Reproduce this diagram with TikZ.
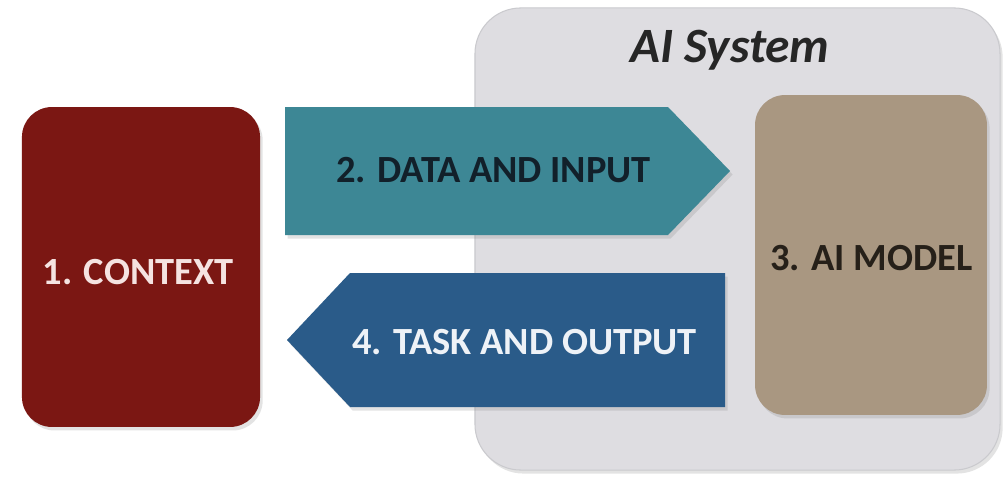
\documentclass[tikz,border=0pt]{standalone}
\usepackage{fontspec}
\setmainfont{Carlito}
\usetikzlibrary{shadows}
\definecolor{ctxred}{HTML}{7B1713}
\definecolor{datateal}{HTML}{3D8795}
\definecolor{taskblue}{HTML}{2A5B89}
\definecolor{modeltan}{HTML}{A99781}
\definecolor{sysgray}{HTML}{DEDDE1}
\definecolor{sysedge}{HTML}{CACACE}
\definecolor{darktext}{HTML}{12202A}
\definecolor{lighttext}{HTML}{EEF2F7}
\definecolor{pinktext}{HTML}{F5E3E1}
\definecolor{modeltext}{HTML}{262019}
\tikzset{
  softshadow/.style={drop shadow={opacity=0.22, shadow xshift=1.5pt, shadow yshift=-2pt}},
  boxstyle/.style={rounded corners=17pt, minimum width=#1, minimum height=181.4pt, inner sep=0pt, softshadow},
  lbl/.style={font=\fontsize{21.8}{24}\selectfont\bfseries, inner sep=0pt}
}
\begin{document}
\begin{tikzpicture}[x=0.567pt,y=-0.567pt]
\useasboundingbox[fill=white] (0,0) rectangle (1005,477);
% AI system container
\node (sys) [fill=sysgray, draw=sysedge, line width=0.6pt, rounded corners=26pt,
  minimum width=297.7pt, minimum height=262pt, inner sep=0pt, softshadow] at (737.5,239) {};
\node (systitle) [font=\fontsize{28}{32}\selectfont\bfseries\itshape, text=black!85, inner sep=0pt] at (730,50) {AI System};
% context
\node (ctx) [boxstyle=135pt, fill=ctxred] at (141,267) {};
\node (ctxlbl) [lbl, text=pinktext] at (138,272) {1. CONTEXT};
% AI model
\node (model) [boxstyle=131.5pt, fill=modeltan] at (871,255) {};
\node (modellbl) [lbl, text=modeltext] at (871.5,258) {3. AI MODEL};
% data arrow
\path[fill=datateal, softshadow] (285,107) -- (668,107) -- (730,171) -- (668,235) -- (285,235) -- cycle;
\node (datalbl) [lbl, text=darktext] at (493.5,170) {2. DATA AND INPUT};
% task arrow
\path[fill=taskblue, softshadow] (725,273) -- (350,273) -- (287,340) -- (350,407) -- (725,407) -- cycle;
\node (tasklbl) [lbl, text=lighttext] at (524.5,342) {4. TASK AND OUTPUT};
\end{tikzpicture}
\end{document}
